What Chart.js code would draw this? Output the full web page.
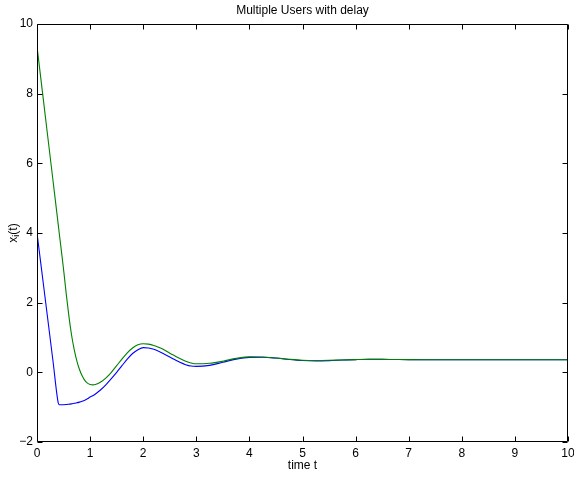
<!DOCTYPE html>
<html>
<head>
<meta charset="utf-8">
<script src="https://cdn.jsdelivr.net/npm/chart.js@4/dist/chart.umd.min.js"></script>
<style>
  html, body { margin: 0; padding: 0; background: #fff; }
  #wrap { width: 574px; height: 478px; }
</style>
</head>
<body>
<div id="wrap"><canvas id="c" width="574" height="478"></canvas></div>
<script>
// Sample times shared by both users
const timeT = [0, 0.1, 0.2, 0.3, 0.4, 0.42, 0.45, 0.5, 0.55, 0.6, 0.65, 0.7, 0.75, 0.8, 0.85, 0.9, 0.95, 1.0, 1.05,
  1.1, 1.2, 1.3, 1.4, 1.5, 1.6, 1.7, 1.8, 1.9, 2.0, 2.1, 2.2, 2.3, 2.4, 2.5, 2.6, 2.7, 2.8, 2.9, 3.0,
  3.25, 3.5, 3.75, 4.0, 4.25, 4.5, 4.75, 5.0, 5.25, 5.5, 5.75, 6.0, 6.25, 6.5, 6.75, 7.0, 7.5, 8.0, 8.5, 9.0, 9.5, 10.0];

// User 1 state x_1(t)
const userOne = [4.00, 2.78, 1.56, 0.34, -0.88, -0.93, -0.932, -0.93, -0.925, -0.915, -0.905, -0.89, -0.875, -0.855, -0.83, -0.80, -0.76, -0.71, -0.67,
  -0.62, -0.50, -0.35, -0.18, 0.00, 0.19, 0.38, 0.54, 0.65, 0.71, 0.70, 0.66, 0.60, 0.52, 0.44, 0.36, 0.28, 0.22, 0.18, 0.17,
  0.20, 0.29, 0.38, 0.43, 0.435, 0.41, 0.37, 0.34, 0.33, 0.337, 0.352, 0.366, 0.374, 0.373, 0.368, 0.364, 0.363, 0.363, 0.363, 0.363, 0.363, 0.363];

// User 2 state x_2(t)
const userTwo = [9.36, 8.08, 6.80, 5.52, 4.24, 3.98, 3.60, 2.96, 2.26, 1.62, 1.08, 0.66, 0.33, 0.08, -0.10, -0.23, -0.31, -0.35, -0.36,
  -0.35, -0.28, -0.16, 0.00, 0.19, 0.38, 0.56, 0.70, 0.79, 0.82, 0.81, 0.77, 0.71, 0.64, 0.55, 0.47, 0.39, 0.32, 0.27, 0.245,
  0.26, 0.32, 0.40, 0.445, 0.44, 0.41, 0.375, 0.348, 0.34, 0.345, 0.356, 0.366, 0.372, 0.372, 0.368, 0.364, 0.363, 0.363, 0.363, 0.363, 0.363, 0.363];

const xRange = [0, 10];
const yRange = [-2, 10];
const xStep = 1;
const yStep = 2;

const chartTitle = 'Multiple Users with delay';
const xTitle = 'time t';

const FONT = '"Liberation Sans", Arial, Helvetica, sans-serif';
const FS = 12;

const toPoints = ys => timeT.map((t, i) => ({ x: t, y: ys[i] }));
const tickText = v => String(v).replace('-', '\u2212');

// Box, inward tick marks and titles in the classic plot style
const frame = {
  id: 'frame',
  afterDraw(chart) {
    const { ctx, chartArea: a, scales: { x, y } } = chart;
    ctx.save();
    ctx.strokeStyle = '#000';
    ctx.lineWidth = 1;
    const L = Math.round(a.left) + 0.5, R = Math.round(a.right) - 0.5;
    const T = Math.round(a.top) + 0.5, B = Math.round(a.bottom) - 0.5;
    ctx.beginPath();
    ctx.rect(L, T, R - L, B - T);
    const tl = 5;
    x.ticks.forEach(tk => {
      const px = Math.round(x.getPixelForValue(tk.value)) + 0.5;
      ctx.moveTo(px, B); ctx.lineTo(px, B - tl);
      ctx.moveTo(px, T); ctx.lineTo(px, T + tl);
    });
    y.ticks.forEach(tk => {
      const py = Math.round(y.getPixelForValue(tk.value)) + 0.5;
      ctx.moveTo(L, py); ctx.lineTo(L + tl, py);
      ctx.moveTo(R, py); ctx.lineTo(R - tl, py);
    });
    ctx.stroke();

    ctx.fillStyle = '#000';
    ctx.textAlign = 'center';
    ctx.textBaseline = 'middle';
    ctx.font = FS + 'px ' + FONT;
    const cx = (a.left + a.right) / 2;
    ctx.fillText(chartTitle, cx, 11);
    ctx.fillText(xTitle, cx, 466);

    // y axis title x_i(t), rotated, with subscript
    ctx.translate(14, (a.top + a.bottom) / 2);
    ctx.rotate(-Math.PI / 2);
    ctx.textAlign = 'left';
    const f1 = FS + 'px ' + FONT, f2 = '9px ' + FONT;
    ctx.font = f1; const w1 = ctx.measureText('x').width;
    ctx.font = f2; const w2 = ctx.measureText('i').width;
    ctx.font = f1; const w3 = ctx.measureText('(t)').width;
    let sx = -(w1 + w2 + w3) / 2;
    ctx.font = f1; ctx.fillText('x', sx, 0); sx += w1;
    ctx.font = f2; ctx.fillText('i', sx, 3); sx += w2;
    ctx.font = f1; ctx.fillText('(t)', sx, 0);
    ctx.restore();
  }
};

new Chart(document.getElementById('c'), {
  type: 'line',
  data: {
    datasets: [
      { label: 'x2', data: toPoints(userTwo), borderColor: '#008000', borderWidth: 1.1, pointRadius: 0,
        cubicInterpolationMode: 'monotone', fill: false },
      { label: 'x1', data: toPoints(userOne), borderColor: '#0000ff', borderWidth: 1.1, pointRadius: 0,
        cubicInterpolationMode: 'monotone', fill: false }
    ]
  },
  options: {
    responsive: false,
    animation: false,
    events: [],
    layout: { padding: { top: 24, right: 6, left: 0, bottom: 0 } },
    plugins: { legend: { display: false }, title: { display: false }, tooltip: { enabled: false } },
    scales: {
      x: {
        type: 'linear', min: xRange[0], max: xRange[1],
        grid: { display: false, drawTicks: false },
        border: { display: false },
        ticks: { stepSize: xStep, color: '#000', font: { family: FONT, size: FS }, padding: 4, maxRotation: 0, callback: tickText },
        afterFit(s) { s.height = 36; s.paddingLeft = 0; s.paddingRight = 0; }
      },
      y: {
        type: 'linear', min: yRange[0], max: yRange[1],
        grid: { display: false, drawTicks: false },
        border: { display: false },
        ticks: { stepSize: yStep, color: '#000', font: { family: FONT, size: FS }, padding: 4, callback: tickText },
        afterFit(s) { s.width = 37; s.paddingTop = 0; s.paddingBottom = 0; }
      }
    }
  },
  plugins: [frame]
});
</script>
</body>
</html>
